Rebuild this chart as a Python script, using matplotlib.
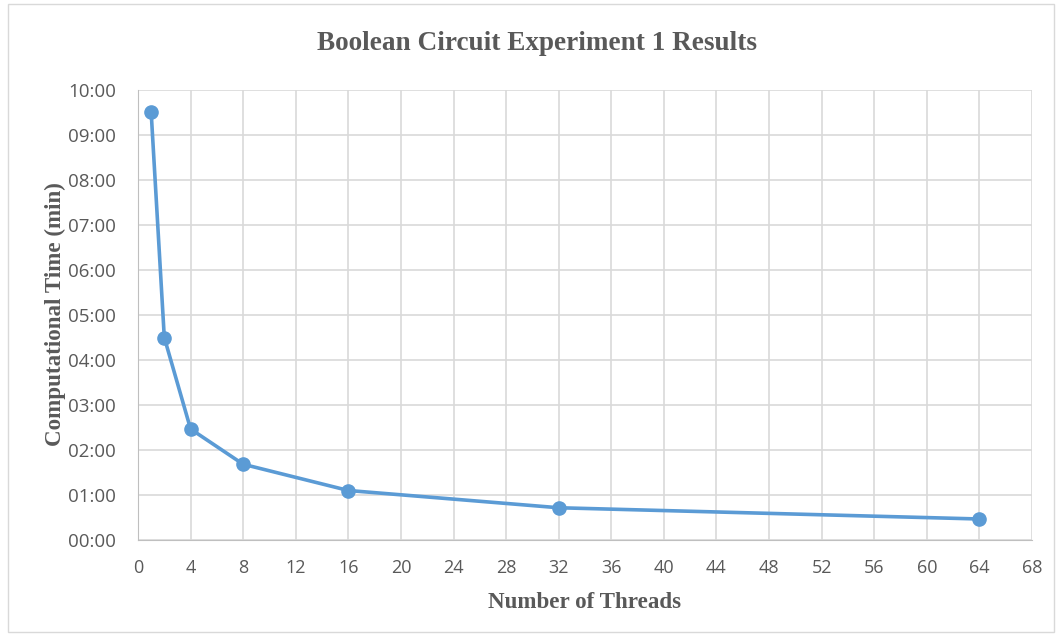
import matplotlib.pyplot as plt
from matplotlib.patches import Rectangle
from matplotlib.ticker import FuncFormatter, MultipleLocator

# thread counts and computational time (seconds)
threads = [1, 2, 4, 8, 16, 32, 64]
time_sec = [571, 270, 148, 101, 66, 43, 28]

TITLE = 'Boolean Circuit Experiment 1 Results'
XLABEL = 'Number of Threads'
YLABEL = 'Computational Time (min)'

GRAY = '#595959'
GRID = '#D9D9D9'
BLUE = '#5B9BD5'


def mmss(v, pos):
    v = int(round(v))
    return '%02d:%02d' % (v // 60, v % 60)


def main():
    fig = plt.figure(figsize=(10.59, 6.36), dpi=100)
    ax = fig.add_axes([138 / 1059, 96 / 636, 894 / 1059, 450 / 636])

    ax.plot(threads, time_sec, color=BLUE, lw=2.6, marker='o', ms=9.5,
            zorder=3, clip_on=False)

    ax.set_xlim(0, 68)
    ax.set_ylim(0, 600)
    ax.xaxis.set_major_locator(MultipleLocator(4))
    ax.yaxis.set_major_locator(MultipleLocator(60))
    ax.yaxis.set_major_formatter(FuncFormatter(mmss))
    ax.grid(True, color=GRID, lw=1.2)
    ax.set_axisbelow(True)
    ax.tick_params(length=0, colors=GRAY)
    ax.tick_params(axis='x', pad=14)
    ax.tick_params(axis='y', pad=16)
    for lab in ax.get_xticklabels():
        lab.set_family(['Liberation Sans Narrow', 'Open Sans', 'DejaVu Sans'])
        lab.set_fontsize(13)
    for lab in ax.get_yticklabels():
        lab.set_family(['Open Sans', 'DejaVu Sans'])
        lab.set_fontsize(13.5)
    for side in ['top', 'right']:
        ax.spines[side].set_visible(False)
    for side in ['left', 'bottom']:
        ax.spines[side].set_color('#BFBFBF')

    serif = ['Liberation Serif', 'DejaVu Serif']
    fig.text(0.552, 0.052, XLABEL, family=serif, fontsize=16.6,
             fontweight='bold', color=GRAY, ha='center', va='center')
    fig.text(0.052, 0.506, YLABEL, family=serif, fontsize=16.6,
             fontweight='bold', color=GRAY, ha='center', va='center',
             rotation=90)
    fig.text(0.507, 0.932, TITLE, family=serif, fontsize=19.6,
             fontweight='bold', color=GRAY, ha='center', va='center')

    fig.patches.append(Rectangle((8 / 1059, 4 / 636), 1046 / 1059, 628 / 636,
                                 transform=fig.transFigure, fill=False,
                                 ec='#D9D9D9', lw=1))

    fig.savefig('out.png', dpi=100, facecolor='white')
    plt.close(fig)


if __name__ == '__main__':
    main()
